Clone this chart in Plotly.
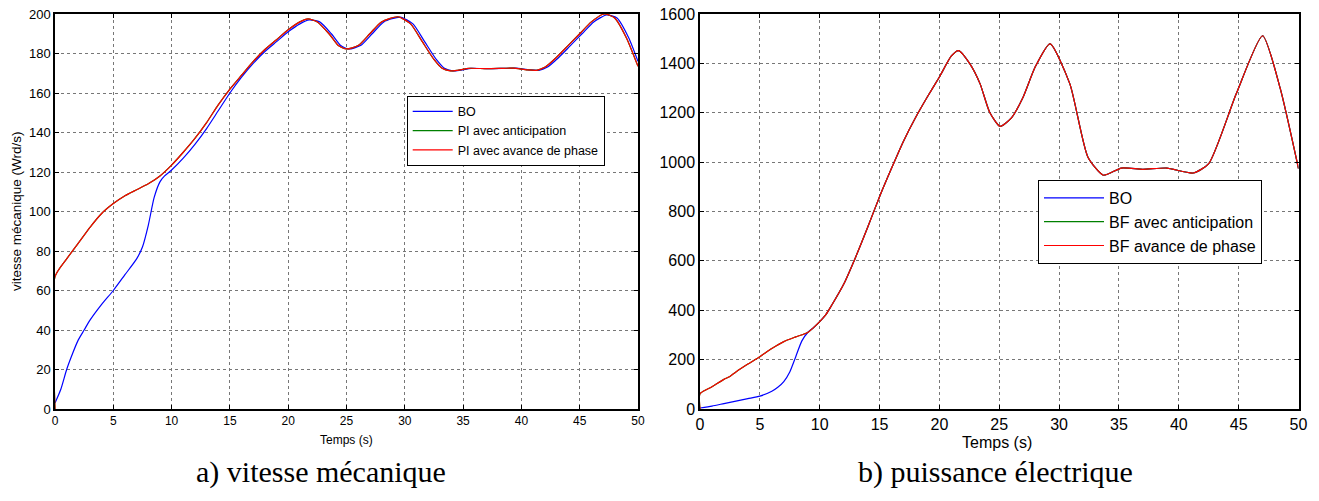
import plotly.graph_objects as go

# ---------- a) vitesse mécanique ----------
t_v_pi = [0, 0, 1, 2, 3, 4, 5, 6, 7, 8, 9, 10, 11, 12, 13, 14, 15, 16, 17, 18, 19, 20, 21, 21.7,
          22.5, 23.5, 24.3, 25, 26, 27, 28, 29.4, 30.5, 31.5, 32.5, 33.2, 33.9, 34.5, 35.5, 37,
          38.5, 39.3, 40.5, 41.3, 42, 43, 44, 45, 46, 47.1, 48, 49, 50]
v_pi = [0, 67, 76, 84, 92, 99, 104, 108, 111, 114, 118, 123.5, 130, 137, 145, 154, 162, 169, 176,
        182, 187, 192, 196, 197.5, 196, 190, 184, 182.3, 184, 190, 196, 198.6, 195, 186, 177, 172.5,
        171.2, 171.5, 172.5, 172.3, 172.5, 172.6, 171.7, 171.5, 173, 178, 184, 190, 196, 200, 198,
        188, 173.5]

t_v_bo = [0, 0.5, 1, 1.5, 2, 2.5, 3, 4, 5, 6, 7, 7.5, 8, 8.5, 9, 9.4, 10, 11, 12, 13, 14, 15, 16,
          17, 18, 19, 20, 21, 21.8, 22.7, 23.7, 24.5, 25.2, 26.2, 27.2, 28.2, 29.6, 30.7, 31.7, 32.7,
          33.4, 34.1, 34.7, 35.7, 37.2, 38.7, 39.5, 40.7, 41.5, 42.2, 43.2, 44.2, 45.2, 46.2, 47.3,
          48.2, 49.2, 50]
v_bo = [3, 10, 20, 28, 35, 40, 45, 53, 60, 68, 76, 82, 93, 107, 115, 118, 121, 127, 134, 142, 151,
        160, 168, 175, 181, 186, 191, 195, 197, 196, 190, 184, 182.3, 184, 190, 196, 198.4, 195, 186,
        177, 172.5, 171.2, 171.5, 172.5, 172.3, 172.5, 172.6, 171.7, 171.5, 173, 178, 184, 190, 196,
        199.5, 198, 188, 176]

# ---------- b) puissance électrique ----------
t_p_bf = [0, 0, 1, 2, 2.5, 3, 4, 5, 6, 7, 8, 9, 10, 10.5, 11, 12, 13, 14, 15, 16, 17, 18, 19, 20,
          21, 21.6, 22.55, 23.4, 24.2, 25.06, 26, 27, 28, 29.24, 30.9, 32.4, 33.7, 35.2, 37, 39.0,
          41.2, 42.5, 44.8, 47.0, 48.45, 50]
p_bf = [0, 62, 90, 120, 132, 150, 182, 212, 245, 273, 292, 310, 354, 381, 420, 505, 615, 735, 860,
        975, 1085, 1180, 1265, 1345, 1430, 1452, 1398, 1317, 1202, 1145, 1178, 1264, 1385, 1479,
        1317, 1021, 947, 976, 971, 976, 956, 994, 1277, 1512, 1303, 974]

t_p_bo_start = [0, 1, 2, 3, 4, 5, 6, 6.5, 7, 7.5, 8, 8.5, 9, 9.5]
p_bo_start = [4, 12, 22, 32, 42, 52, 72, 88, 111, 150, 212, 275, 310, 330]

x_ticks = [0, 5, 10, 15, 20, 25, 30, 35, 40, 45, 50]
v_ticks = [0, 20, 40, 60, 80, 100, 120, 140, 160, 180, 200]
p_ticks = [0, 200, 400, 600, 800, 1000, 1200, 1400, 1600]

# BO after t=10 follows the closed-loop power curve
t_p_bo = t_p_bo_start + [t for t in t_p_bf if t >= 10]
p_bo = p_bo_start + [p for t, p in zip(t_p_bf, p_bf) if t >= 10]

BLUE, GREEN, RED = "#0000FF", "#008000", "#FF0000"

fig = go.Figure()
line_kw = dict(shape="spline", smoothing=0.6, width=1.2)

fig.add_trace(go.Scatter(x=t_v_bo, y=v_bo, mode="lines", name="BO",
                         line=dict(color=BLUE, **line_kw), xaxis="x", yaxis="y", legend="legend"))
fig.add_trace(go.Scatter(x=t_v_pi, y=v_pi, mode="lines", name="PI avec anticipation",
                         line=dict(color=GREEN, **line_kw), xaxis="x", yaxis="y", legend="legend"))
fig.add_trace(go.Scatter(x=t_v_pi, y=v_pi, mode="lines", name="PI avec avance de phase",
                         line=dict(color=RED, **line_kw), xaxis="x", yaxis="y", legend="legend"))

fig.add_trace(go.Scatter(x=t_p_bo, y=p_bo, mode="lines", name="BO",
                         line=dict(color=BLUE, **line_kw), xaxis="x2", yaxis="y2", legend="legend2"))
fig.add_trace(go.Scatter(x=t_p_bf, y=p_bf, mode="lines", name="BF avec anticipation",
                         line=dict(color=GREEN, **line_kw), xaxis="x2", yaxis="y2", legend="legend2"))
fig.add_trace(go.Scatter(x=t_p_bf, y=p_bf, mode="lines", name="BF avance de phase",
                         line=dict(color=RED, **line_kw), xaxis="x2", yaxis="y2", legend="legend2"))

W, H = 1319, 501
ydom = [(H - 409) / H, (H - 14) / H]

def ax(domain, rng, tickvals, size, anchor):
    return dict(domain=domain, range=rng, tickvals=tickvals, ticks="inside", ticklen=4,
                tickcolor="black", showline=True, linecolor="black", linewidth=1.5,
                mirror="allticks", showgrid=True, gridcolor="#777777", griddash="dot",
                gridwidth=1, zeroline=False, anchor=anchor, automargin=False,
                tickfont=dict(family="Liberation Sans, Arial", size=size, color="black"))

fig.update_layout(
    width=W, height=H, margin=dict(l=0, r=0, t=0, b=0, autoexpand=False),
    paper_bgcolor="white", plot_bgcolor="white",
    xaxis=ax([55 / W, 638 / W], [0, 50], x_ticks, 12, "y"),
    yaxis=ax(ydom, [0, 200], v_ticks, 13, "x"),
    xaxis2=ax([700 / W, 1298.5 / W], [0, 50], x_ticks, 16, "y2"),
    yaxis2=ax(ydom, [0, 1600], p_ticks, 16, "x2"),
    legend=dict(x=406.7 / W, y=1 - 95.7 / H, xanchor="left", yanchor="top",
                bgcolor="white", bordercolor="black", borderwidth=1,
                font=dict(family="Liberation Sans, Arial", size=12.5, color="black"),
                tracegroupgap=0, itemwidth=40),
    legend2=dict(x=1038 / W, y=1 - 180 / H, xanchor="left", yanchor="top",
                 bgcolor="white", bordercolor="black", borderwidth=1,
                 font=dict(family="Liberation Sans, Arial", size=16, color="black"),
                 tracegroupgap=0, itemwidth=60),
    showlegend=True,
)

ann = [
    dict(text="Temps (s)", x=346.5 / W, y=1 - 440 / H, size=12, family="Liberation Sans, Arial", angle=0),
    dict(text="Temps (s)", x=997 / W, y=1 - 442 / H, size=16, family="Liberation Sans, Arial", angle=0),
    dict(text="vitesse mécanique (Wrd/s)", x=16 / W, y=1 - 211 / H, size=13.5,
         family="Liberation Sans, Arial", angle=-90),
    dict(text="a) vitesse mécanique", x=321 / W, y=1 - 472 / H, size=30,
         family="Liberation Serif, Times New Roman", angle=0),
    dict(text="b) puissance électrique", x=995 / W, y=1 - 472 / H, size=30,
         family="Liberation Serif, Times New Roman", angle=0),
]
for a in ann:
    fig.add_annotation(text=a["text"], x=a["x"], y=a["y"], xref="paper", yref="paper",
                       showarrow=False, textangle=a["angle"], xanchor="center", yanchor="middle",
                       font=dict(family=a["family"], size=a["size"], color="black"))

fig.write_html("out.html", config={"displayModeBar": False},
               post_script="document.body.style.margin='0';document.body.style.overflow='hidden';")
